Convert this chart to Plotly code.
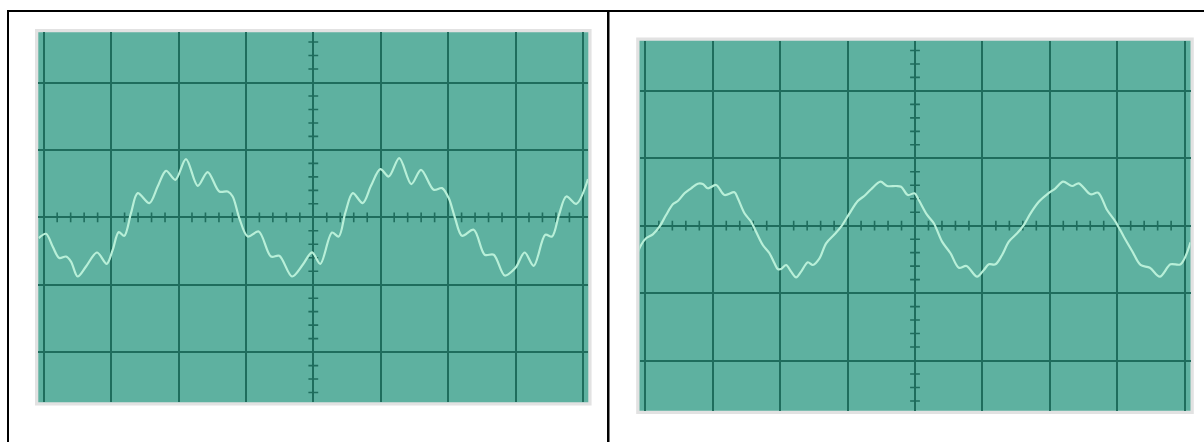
import numpy as np
import plotly.graph_objects as go

# Two oscilloscope traces, values in screen divisions (time/div, volts/div)
left_t = [-4.074, -3.966, -3.867, -3.769, -3.669, -3.595, -3.496, -3.372, -3.209, -3.065,
          -2.976, -2.887, -2.804, -2.705, -2.605, -2.433, -2.309, -2.185, -2.047, -1.889,
          -1.715, -1.567, -1.395, -1.270, -1.196, -1.098, -0.973, -0.810, -0.628, -0.504,
          -0.316, -0.157, -0.019, 0.104, 0.277, 0.377, 0.475, 0.585, 0.733, 0.856,
          0.994, 1.119, 1.276, 1.454, 1.598, 1.786, 1.909, 2.009, 2.102, 2.206,
          2.380, 2.543, 2.677, 2.840, 2.997, 3.136, 3.270, 3.442, 3.542, 3.645,
          3.754, 3.902, 4.076]
left_v = [-0.309, -0.245, -0.433, -0.605, -0.582, -0.656, -0.878, -0.730, -0.522, -0.690,
          -0.482, -0.220, -0.274, 0.062, 0.359, 0.211, 0.457, 0.690, 0.556, 0.864,
          0.467, 0.671, 0.383, 0.383, 0.309, -0.012, -0.285, -0.211, -0.582, -0.571,
          -0.878, -0.705, -0.519, -0.690, -0.226, -0.285, 0.067, 0.359, 0.211, 0.467,
          0.715, 0.605, 0.878, 0.493, 0.705, 0.408, 0.433, 0.285, -0.007, -0.274,
          -0.185, -0.556, -0.556, -0.864, -0.754, -0.522, -0.720, -0.260, -0.285, 0.037,
          0.309, 0.200, 0.567]

right_t = [-4.113, -4.064, -3.990, -3.890, -3.791, -3.693, -3.593, -3.519, -3.420, -3.322,
           -3.223, -3.148, -3.074, -2.951, -2.826, -2.678, -2.629, -2.530, -2.432, -2.358,
           -2.258, -2.159, -2.085, -2.036, -1.987, -1.912, -1.838, -1.764, -1.690, -1.590,
           -1.516, -1.417, -1.319, -1.194, -1.096, -0.972, -0.849, -0.749, -0.651, -0.512,
           -0.414, -0.280, -0.206, -0.107, -0.007, 0.056, 0.180, 0.279, 0.402, 0.527,
           0.650, 0.764, 0.921, 1.021, 1.095, 1.194, 1.292, 1.392, 1.515, 1.614,
           1.714, 1.837, 1.960, 2.085, 2.197, 2.331, 2.430, 2.604, 2.717, 2.850,
           2.975, 3.098, 3.221, 3.346, 3.484, 3.632, 3.791, 3.939, 4.088]
right_v = [-0.395, -0.286, -0.187, -0.128, -0.015, 0.159, 0.318, 0.366, 0.481, 0.555,
           0.623, 0.619, 0.555, 0.604, 0.455, 0.496, 0.407, 0.184, 0.059, -0.089,
           -0.286, -0.409, -0.558, -0.642, -0.642, -0.583, -0.682, -0.766, -0.682, -0.543,
           -0.583, -0.484, -0.261, -0.128, -0.015, 0.184, 0.366, 0.445, 0.540, 0.653,
           0.589, 0.589, 0.579, 0.455, 0.481, 0.381, 0.159, 0.036, -0.237, -0.409,
           -0.623, -0.598, -0.757, -0.657, -0.573, -0.573, -0.435, -0.237, -0.113, 0.010,
           0.184, 0.356, 0.466, 0.555, 0.653, 0.589, 0.629, 0.466, 0.490, 0.233,
           0.059, -0.163, -0.375, -0.583, -0.623, -0.757, -0.573, -0.573, -0.246]

W, H = 1204, 442
DIV = 67.4            # pixels per screen division
SCREEN = "#5eb1a0"
GRID = "#1f6d5d"
TRACE = "#b8efd8"
FRAME = "#e2e2e2"

# screen rectangles in page pixels: (left, top, right, bottom)
screens = [(38.3, 32.3, 588.3, 402.3), (639.5, 40.7, 1190.5, 410.7)]


def px(x):
    return x / W


def py(y):
    return 1 - y / H


fig = go.Figure()
shapes = []
minor = np.round(np.arange(-4.0, 4.01, 0.2), 3)
minor = minor[np.abs(minor - np.round(minor)) > 1e-6]

for i, ((l, t, r, b), (ts, vs)) in enumerate(zip(screens, [(left_t, left_v), (right_t, right_v)])):
    n = "" if i == 0 else str(i + 1)
    hx = (r - l) / 2 / DIV
    hy = (b - t) / 2 / DIV
    common = dict(showgrid=True, gridcolor=GRID, gridwidth=2, dtick=1, tick0=0,
                  zeroline=True, zerolinecolor=GRID, zerolinewidth=2,
                  showticklabels=False, ticks="", showline=False, fixedrange=True)
    fig.update_layout(**{
        "xaxis" + n: dict(domain=[px(l), px(r)], range=[-hx, hx], anchor="y" + n, **common),
        "yaxis" + n: dict(domain=[py(b), py(t)], range=[-hy, hy], anchor="x" + n, **common),
    })
    # bezel and screen
    shapes.append(dict(type="rect", xref="paper", yref="paper", layer="below",
                       x0=px(l - 3.3), x1=px(r + 3.3), y0=py(b + 3.3), y1=py(t - 3.3),
                       fillcolor=FRAME, line=dict(width=0)))
    shapes.append(dict(type="rect", xref="paper", yref="paper", layer="below",
                       x0=px(l), x1=px(r), y0=py(b), y1=py(t),
                       fillcolor=SCREEN, line=dict(width=0)))
    xa, ya = "x" + n, "y" + n
    mx = minor[np.abs(minor) < hx]
    my = minor[np.abs(minor) < hy]
    fig.add_trace(go.Scatter(x=mx, y=np.zeros_like(mx), mode="markers", xaxis=xa, yaxis=ya,
                             marker=dict(symbol="line-ns", size=7,
                                         line=dict(color=GRID, width=1.6)),
                             hoverinfo="skip", showlegend=False))
    fig.add_trace(go.Scatter(x=np.zeros_like(my), y=my, mode="markers", xaxis=xa, yaxis=ya,
                             marker=dict(symbol="line-ew", size=7,
                                         line=dict(color=GRID, width=1.6)),
                             hoverinfo="skip", showlegend=False))
    fig.add_trace(go.Scatter(x=ts, y=vs, mode="lines", xaxis=xa, yaxis=ya,
                             line=dict(color=TRACE, width=2.2, shape="spline", smoothing=0.9),
                             showlegend=False))

# black table rules
for x0, x1, y0, y1 in [(7, W, 10, 12), (7, 9, 10, H), (607, 609.5, 10, H)]:
    shapes.append(dict(type="rect", xref="paper", yref="paper",
                       x0=px(x0), x1=px(x1), y0=py(y1), y1=py(y0),
                       fillcolor="black", line=dict(width=0)))

fig.update_layout(width=W, height=H, margin=dict(l=0, r=0, t=0, b=0),
                  paper_bgcolor="white", plot_bgcolor="rgba(0,0,0,0)",
                  shapes=shapes, showlegend=False)

fig.write_html("out.html")
